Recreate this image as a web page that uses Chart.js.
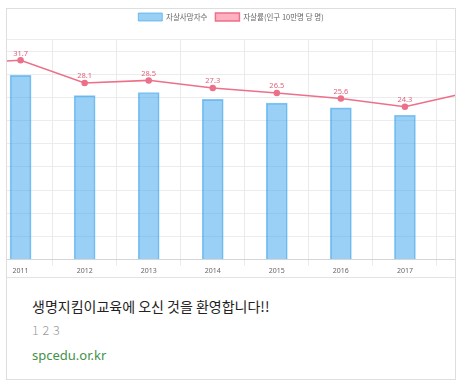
<!DOCTYPE html>
<html>
<head>
<meta charset="utf-8">
<script src="https://cdn.jsdelivr.net/npm/chart.js@4.4.1/dist/chart.umd.min.js"></script>
<style>
html,body{margin:0;padding:0;background:#fff;width:462px;height:387px;overflow:hidden;}
#card{position:absolute;left:6px;top:8px;width:450px;height:372px;box-sizing:border-box;border:1px solid #dedede;background:#fff;}
#chartBox{position:absolute;left:0;top:0;width:448px;height:268px;overflow:hidden;border-bottom:1px solid #e3e3e3;}
#c{position:absolute;left:-88px;top:-4px;}
.t{position:absolute;left:25px;white-space:nowrap;font-family:"Noto Sans CJK KR","Noto Sans",sans-serif;}
#title{top:287px;font-size:14px;line-height:20px;color:#222;}
#pages{top:312px;font-size:12.5px;line-height:18px;color:#999;font-weight:300;letter-spacing:0.5px;}
#url{top:337px;font-size:13px;line-height:18px;color:#44914a;font-family:"Noto Sans","Open Sans",sans-serif;}
</style>
</head>
<body>
<div id="card">
  <div id="chartBox"><canvas id="c" width="624" height="271"></canvas></div>
  <div class="t" id="title">생명지킴이교육에 오신 것을 환영합니다!!</div>
  <div class="t" id="pages">1 2 3</div>
  <div class="t" id="url">spcedu.or.kr</div>
</div>
<script>
const years = ['2010','2011','2012','2013','2014','2015','2016','2017','2018'];
const deaths = [15566,15906,14160,14427,13836,13513,13092,12463,13670];
const rates = [31.2,31.7,28.1,28.5,27.3,26.5,25.6,24.3,26.6];
const countTicks = [0,2000,4000,6000,8000,10000,12000,14000,16000,18000,19000];
const seriesNames = ['자살사망자수','자살률(인구 10만명 당 명)'];

const legendGap = {
  id: 'legendGap',
  beforeInit(chart) {
    if (!chart.legend) return;
    const fit = chart.legend.fit;
    chart.legend.fit = function () { fit.call(this); this.height += 8.5; };
  }
};

const valueLabels = {
  id: 'valueLabels',
  afterDatasetsDraw(chart) {
    const meta = chart.getDatasetMeta(1);
    const ctx = chart.ctx;
    ctx.save();
    ctx.font = '7.5px "Noto Sans", sans-serif';
    ctx.fillStyle = '#e0637a';
    ctx.textAlign = 'center';
    ctx.textBaseline = 'bottom';
    meta.data.forEach((pt, i) => {
      ctx.fillText(rates[i].toFixed(1), pt.x, pt.y - 3);
    });
    ctx.restore();
  }
};

new Chart(document.getElementById('c'), {
  type: 'bar',
  data: {
    labels: years,
    datasets: [
      {
        type: 'bar',
        label: seriesNames[0],
        data: deaths,
        yAxisID: 'y',
        backgroundColor: 'rgba(54,162,235,0.5)',
        borderColor: 'rgba(54,162,235,0.6)',
        borderWidth: 1,
        barThickness: 21
      },
      {
        type: 'line',
        label: seriesNames[1],
        data: rates,
        yAxisID: 'y1',
        backgroundColor: 'rgba(255,99,132,0.5)',
        borderColor: 'rgb(236,112,137)',
        borderWidth: 1.5,
        pointRadius: 2.5,
        pointBackgroundColor: 'rgb(236,112,137)',
        pointBorderColor: 'rgb(236,112,137)',
        tension: 0,
        fill: false
      }
    ]
  },
  options: {
    responsive: false,
    animation: false,
    devicePixelRatio: 1,
    layout: { padding: 0 },
    plugins: {
      legend: {
        labels: {
          boxWidth: 24,
          boxHeight: 8,
          padding: 8,
          color: '#666',
          font: { size: 7.5, family: '"Noto Sans CJK KR", "Noto Sans", sans-serif' }
        }
      },
      tooltip: { enabled: false }
    },
    scales: {
      x: {
        grid: { color: '#ebebeb', tickLength: 6 },
        border: { color: '#d5d5d5' },
        ticks: { color: '#666', font: { size: 7, family: '"Noto Sans", sans-serif' }, padding: 1, maxRotation: 0, autoSkip: false }
      },
      y: {
        position: 'left',
        min: 0,
        max: 19000,
        afterBuildTicks: s => { s.ticks = countTicks.map(v => ({ value: v })); },
        afterFit: s => { s.width = 3; },
        ticks: { display: false },
        grid: { color: '#ececec', drawTicks: false },
        border: { display: false }
      },
      y1: {
        position: 'right',
        min: 0,
        max: 35,
        afterFit: s => { s.width = 42; },
        ticks: { display: false },
        grid: { display: false },
        border: { display: false }
      }
    }
  },
  plugins: [legendGap, valueLabels]
});
</script>
</body>
</html>
